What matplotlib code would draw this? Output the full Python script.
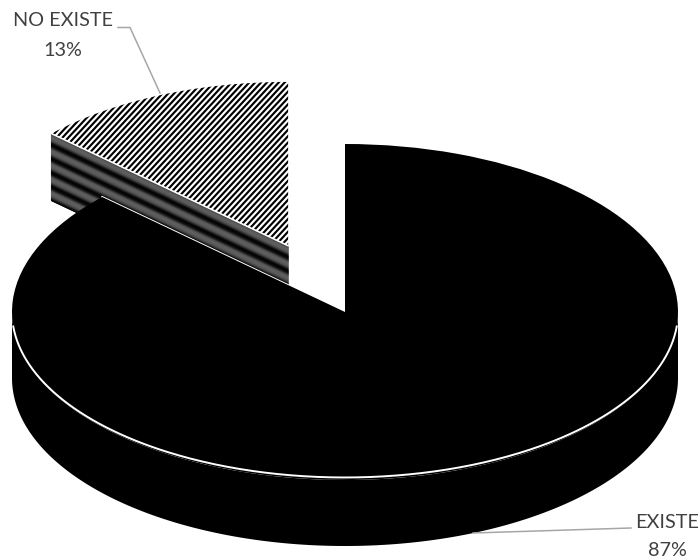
import numpy as np
import matplotlib
matplotlib.use("Agg")
import matplotlib.pyplot as plt
from matplotlib.patches import Polygon
from matplotlib.collections import LineCollection

categories = ["EXISTE", "NO EXISTE"]
values = [87, 13]
pct_labels = ["87%", "13%"]

plt.rcParams['font.family'] = ['Lato', 'DejaVu Sans']

W, H = 700, 560
CX, CY, RX, RY = 345, 312, 333, 168
DEPTH = 66 / RY
EXPLODE = 0.43
SMALL_R = 0.975
FRONT_SQUASH = 0.985

fig = plt.figure(figsize=(7, 5.6), dpi=100, facecolor="white")
ax = fig.add_axes([0, 0, 1, 1])
wedges, _ = ax.pie(values, explode=[0, EXPLODE], startangle=90, counterclock=False,
                   radius=1, colors=["black", "white"], wedgeprops=dict(linewidth=0))
ax.set_aspect("auto")
ax.set_xlim(-CX / RX, (W - CX) / RX)
ax.set_ylim((CY - H) / RY, CY / RY)
ax.axis("off")

big, small = wedges
big.set_zorder(6)
small.set_radius(SMALL_R)
small.set(facecolor="white", edgecolor="none", linewidth=0, zorder=3)

def px(x, y):
    return (np.asarray(x, float) - CX) / RX, (CY - np.asarray(y, float)) / RY

# diagonal fill of the small slice
segs = []
for x0 in np.arange(-200, 420, 5.9):
    a = px(x0, 300)
    b = px(x0 + 300 / 1.08, 0)
    segs.append([a, b])
stripes = LineCollection(segs, colors="black", linewidths=1.55, zorder=3.2)
ax.add_collection(stripes, autolim=False)
stripes.set_clip_path(small)

# angles from the data, measured the way pie() lays them out
frac = np.array(values, float) / sum(values)
end_deg = 90 - 360 * frac[0]
mid_small = np.deg2rad(90 - 360 * (frac[0] + frac[1] / 2))
off = EXPLODE * np.array([np.cos(mid_small), np.sin(mid_small)])
corner = np.array([np.cos(np.deg2rad(end_deg)), np.sin(np.deg2rad(end_deg))])

# cut face of the small slice: banded grey
profile = [0.10, 0.20, 0.30, 0.36, 0.37, 0.37, 0.36, 0.33, 0.27, 0.18, 0.08, 0.02, 0.02, 0.05]
rows = 68
drop = np.arange(rows) / RY
grey = np.array([profile[k % len(profile)] for k in range(rows)])
p0 = off
p1 = off + corner * SMALL_R
X = np.column_stack([np.full(rows, p0[0]), np.full(rows, p1[0])])
Y = np.column_stack([p0[1] - drop, p1[1] - drop])
C = np.column_stack([grey, grey])
ax.pcolormesh(X, Y, C, shading="gouraud", cmap="gray", vmin=0, vmax=1, zorder=2)

# rim of the main slice
th = np.deg2rad(np.linspace(180, 360, 300))
xs, ys = np.cos(th), np.sin(th)
rim = np.column_stack([np.r_[xs, xs[::-1]], np.r_[ys, ys[::-1] - DEPTH]])
ax.add_patch(Polygon(rim, closed=True, fc="black", ec="none", zorder=5))

# white edges
th2 = np.deg2rad(np.linspace(185, 355, 300))
ax.plot(np.cos(th2), FRONT_SQUASH * np.sin(th2), color="white", lw=1.4, zorder=7)
ax.plot([0, corner[0]], [0, corner[1]], color="white", lw=1.4, zorder=4.5)
ax.plot([p0[0], p1[0]], [p0[1], p1[1]], color="white", lw=1.2, zorder=3.5)

# labels and leader lines in pixel coordinates
ov = fig.add_axes([0, 0, 1, 1], facecolor="none")
ov.set_xlim(0, W)
ov.set_ylim(H, 0)
ov.axis("off")
leader = "#a6a6a6"
ov.plot([118, 130, 160], [27.5, 27.5, 93], color=leader, lw=1.1)
ov.plot([473, 631], [533, 528], color=leader, lw=1.1)
txt = dict(color="#404040", fontsize=14.3, ha="center", va="center")
ov.text(63, 21, categories[1], **txt)
ov.text(63, 50, pct_labels[1], **txt)
ov.text(667, 522, categories[0], **txt)
ov.text(667, 551, pct_labels[0], **txt)

fig.savefig("out.png", dpi=100)
